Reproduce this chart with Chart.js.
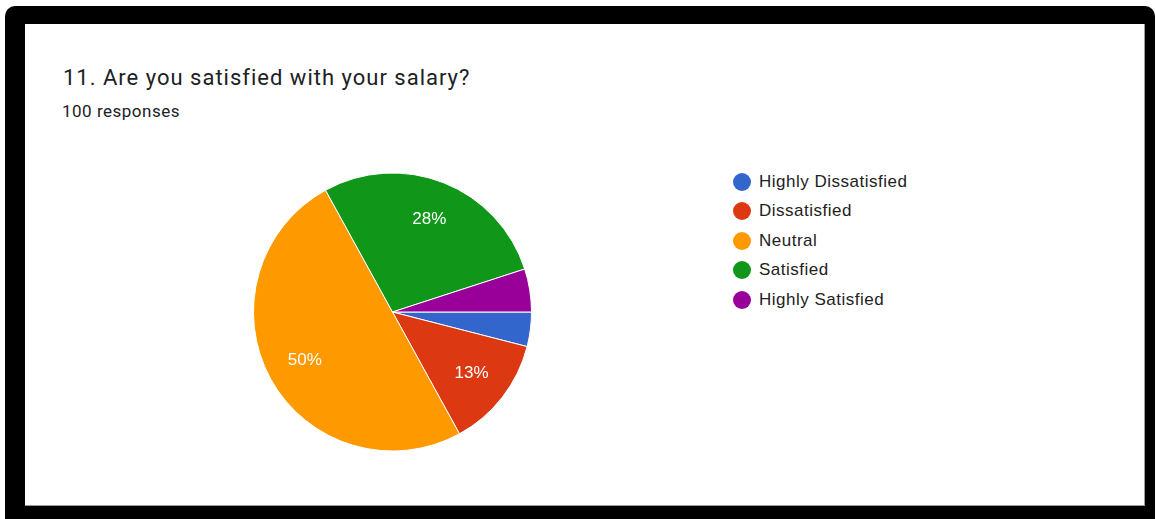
<!DOCTYPE html>
<html>
<head>
<meta charset="utf-8">
<script src="https://cdn.jsdelivr.net/npm/chart.js@4.4.1/dist/chart.umd.min.js"></script>
<style>
  html, body { margin: 0; padding: 0; background: #fff; }
  body { width: 1156px; height: 519px; position: relative; overflow: hidden; }
  .frame {
    position: absolute; left: 5px; top: 6px; right: 1px; bottom: -10px;
    background: #000; border-radius: 10px 10px 0 0;
  }
  .card {
    position: absolute; left: 25px; top: 24px; width: 1119px; height: 481px;
    background: #fff; border-right: 1px solid #9a9a9a; border-bottom: 1px solid #9a9a9a;
  }
  .title {
    position: absolute; left: 63px; top: 65px;
    font: 22px Roboto, "Noto Sans", sans-serif; color: #202124; letter-spacing: 1px;
  }
  .sub {
    position: absolute; left: 62px; top: 101px;
    font: 17px Roboto, "Noto Sans", sans-serif; color: #202124; letter-spacing: 0.5px;
  }
  #pieWrap { position: absolute; left: 253px; top: 172px; width: 279px; height: 280px; }
  #legend { position: absolute; left: 733px; top: 167px; margin: 0; padding: 0; list-style: none; }
  #legend li {
    height: 29.5px; display: flex; align-items: center;
    font: 17px "Liberation Sans", Arial, sans-serif; color: #222; letter-spacing: 0.5px;
  }
  #legend span.dot { width: 18px; height: 18px; border-radius: 50%; margin-right: 8px; }
</style>
</head>
<body>
<div class="frame"></div>
<div class="card"></div>
<div class="title">11. Are you satisfied with your salary?</div>
<div class="sub">100 responses</div>
<div id="pieWrap"><canvas id="pie"></canvas></div>
<ul id="legend"></ul>
<script>
const labels = ['Highly Dissatisfied', 'Dissatisfied', 'Neutral', 'Satisfied', 'Highly Satisfied'];
const percents = [4, 13, 50, 28, 5];
const colors = ['#3366cc', '#dc3912', '#ff9900', '#109618', '#990099'];

// percentage text inside the larger slices
const sliceLabels = {
    id: 'sliceLabels',
    afterDatasetsDraw(chart) {
        const { ctx } = chart;
        const meta = chart.getDatasetMeta(0);
        ctx.save();
        ctx.font = '17px "Liberation Sans", Arial, sans-serif';
        ctx.fillStyle = '#fff';
        ctx.textAlign = 'center';
        ctx.textBaseline = 'middle';
        meta.data.forEach((arc, i) => {
            if (percents[i] < 10) return;
            const mid = (arc.startAngle + arc.endAngle) / 2;
            const r = arc.outerRadius * 0.72;
            ctx.fillText(percents[i] + '%', arc.x + Math.cos(mid) * r, arc.y + Math.sin(mid) * r);
        });
        ctx.restore();
    },
};

new Chart(document.getElementById('pie'), {
    type: 'pie',
    data: {
        labels: labels,
        datasets: [{
            data: percents,
            backgroundColor: colors,
            borderColor: '#fff',
            borderWidth: 1,
        }],
    },
    options: {
        responsive: true,
        maintainAspectRatio: false,
        animation: false,
        rotation: 90,
        layout: { padding: 0 },
        plugins: { legend: { display: false }, tooltip: { enabled: false } },
    },
    plugins: [sliceLabels],
});

document.getElementById('legend').innerHTML = labels.map((l, i) =>
    `<li><span class="dot" style="background:${colors[i]}"></span>${l}</li>`
).join('');
</script>
</body>
</html>
